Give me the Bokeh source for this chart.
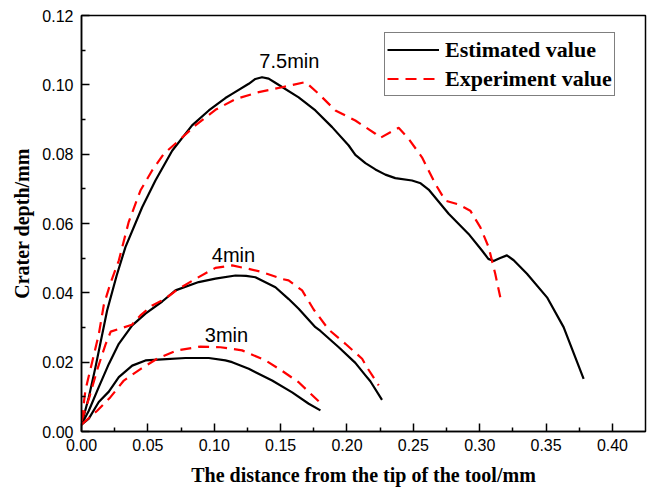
from bokeh.plotting import figure
from bokeh.models import (Range1d, FixedTicker, NumeralTickFormatter, Legend, LegendItem,
                          ColumnDataSource)
from bokeh.core.properties import value
from bokeh.embed import file_html
from bokeh.resources import INLINE

# ---- data ----
x_est_75 = [0, 0.0055, 0.0105, 0.0193, 0.0265, 0.0331, 0.0457, 0.0557, 0.0683, 0.0833, 0.0959,
            0.1084, 0.1135, 0.126, 0.131, 0.136, 0.141, 0.146, 0.1636, 0.1762, 0.1888, 0.2013,
            0.2063, 0.2139, 0.2214, 0.2289, 0.2364, 0.249, 0.2555, 0.2615, 0.2766, 0.2916,
            0.3017, 0.3065, 0.3105, 0.315, 0.3205, 0.3256, 0.3356, 0.3507, 0.3632, 0.3783]
y_est_75 = [0.002, 0.0099, 0.0185, 0.0349, 0.045, 0.0532, 0.0647, 0.0724, 0.081, 0.0883, 0.0926,
            0.0962, 0.0974, 0.1003, 0.1017, 0.1022, 0.1018, 0.1006, 0.0964, 0.0926, 0.0878, 0.0825,
            0.0798, 0.0774, 0.0756, 0.0741, 0.0731, 0.0724, 0.0716, 0.0698, 0.0628, 0.057,
            0.0522, 0.0498, 0.0492, 0.05, 0.0508, 0.0494, 0.0455, 0.0387, 0.0301, 0.0152]

x_exp_75 = [0, 0.003, 0.008, 0.013, 0.0168, 0.022, 0.0281, 0.0356, 0.0444, 0.0532, 0.062, 0.0733,
            0.0858, 0.1009, 0.116, 0.1335, 0.1511, 0.1687, 0.1787, 0.1913, 0.2063, 0.2214,
            0.2251, 0.2389, 0.2465, 0.2565, 0.2666, 0.2741, 0.2841, 0.2929, 0.3005, 0.3067,
            0.3117, 0.3155]
y_exp_75 = [0.003, 0.012, 0.02, 0.028, 0.0365, 0.043, 0.0493, 0.0605, 0.0695, 0.0753, 0.0801, 0.0839,
            0.0883, 0.0928, 0.0959, 0.0979, 0.0993, 0.1008, 0.0974, 0.0926, 0.0897, 0.0859,
            0.0847, 0.0876, 0.0844, 0.0791, 0.0714, 0.0666, 0.0655, 0.0637, 0.0589, 0.0532,
            0.0455, 0.0387]

x_est_4 = [0, 0.0055, 0.013, 0.0206, 0.0281, 0.0382, 0.0482, 0.0608, 0.0708, 0.0883, 0.1009,
           0.116, 0.124, 0.131, 0.1461, 0.1561, 0.1636, 0.1762, 0.18, 0.1938, 0.2063, 0.2139,
           0.2176, 0.2264]
y_est_4 = [0.002, 0.006, 0.0128, 0.0195, 0.0253, 0.0306, 0.034, 0.0375, 0.0407, 0.0431, 0.0441,
           0.045, 0.0449, 0.0445, 0.0416, 0.0382, 0.0354, 0.0301, 0.029, 0.0243, 0.0198, 0.0162,
           0.0145, 0.0091]

x_exp_4 = [0, 0.006, 0.012, 0.018, 0.022, 0.03, 0.038, 0.0444, 0.053, 0.063, 0.0733, 0.0858,
           0.1009, 0.1135, 0.126, 0.136, 0.1511, 0.156, 0.1662, 0.1749, 0.1862, 0.1988, 0.2114,
           0.2151, 0.2239]
y_exp_4 = [0.003, 0.01, 0.018, 0.025, 0.0288, 0.0298, 0.0308, 0.0335, 0.0363, 0.0383, 0.0412, 0.044,
           0.0472, 0.0479, 0.0469, 0.046, 0.044, 0.0436, 0.0407, 0.0352, 0.0294, 0.0253, 0.021,
           0.0185, 0.0133]

x_est_3 = [0, 0.0055, 0.013, 0.0206, 0.0281, 0.0382, 0.0482, 0.0608, 0.0783, 0.0959, 0.1084,
           0.1135, 0.126, 0.1436, 0.1587, 0.1712, 0.18]
y_est_3 = [0.002, 0.0037, 0.0085, 0.0115, 0.0157, 0.019, 0.0205, 0.0208, 0.0212, 0.0212, 0.0205,
           0.02, 0.0181, 0.0147, 0.0113, 0.008, 0.0061]

x_exp_3 = [0, 0.0118, 0.0218, 0.0319, 0.0444, 0.057, 0.072, 0.0896, 0.1047, 0.121, 0.1386,
           0.1511, 0.1636, 0.1787]
y_exp_3 = [0.002, 0.006, 0.0099, 0.0147, 0.018, 0.021, 0.0234, 0.0245, 0.0243, 0.0234, 0.0205,
           0.0175, 0.0142, 0.0087]

x_ticks = [0.00, 0.05, 0.10, 0.15, 0.20, 0.25, 0.30, 0.35, 0.40]
y_ticks = [0.00, 0.02, 0.04, 0.06, 0.08, 0.10, 0.12]

label_text = ["7.5min", "4min", "3min"]
label_x = [0.1566, 0.1145, 0.1092]
label_y = [0.1068, 0.0508, 0.0277]

series_names = ["Estimated value", "Experiment value"]

# ---- figure ----
p = figure(width=650, height=488, output_backend="svg", toolbar_location=None,
           x_range=Range1d(0, 0.4249), y_range=Range1d(0, 0.12),
           min_border_left=81, min_border_right=5, min_border_top=15, min_border_bottom=57)
p.background_fill_color = "white"
p.border_fill_color = "white"
p.grid.visible = False
p.outline_line_color = "black"
p.outline_line_width = 1.5
p.outline_line_alpha = 1.0

est_kw = dict(line_color="black", line_width=2.2, line_join="round")
exp_kw = dict(line_color="#ff0000", line_width=2.2, line_dash="11 7")

r_est = p.line(x_est_75, y_est_75, **est_kw)
p.line(x_est_4, y_est_4, **est_kw)
p.line(x_est_3, y_est_3, **est_kw)
r_exp = p.line(x_exp_75, y_exp_75, **exp_kw)
p.line(x_exp_4, y_exp_4, **exp_kw)
p.line(x_exp_3, y_exp_3, **exp_kw)

src = ColumnDataSource(dict(x=label_x, y=label_y, t=label_text))
p.text(x="x", y="y", text="t", source=src, text_font=value("Liberation Sans"),
       text_font_size=value("20px"), text_align="center", text_baseline="alphabetic",
       text_color="black")

# axes
for ax in (p.xaxis[0], p.yaxis[0]):
    ax.axis_line_width = 1.5
    ax.axis_line_color = "black"
    ax.major_tick_in = 8
    ax.major_tick_out = 0
    ax.minor_tick_in = 4
    ax.minor_tick_out = 0
    ax.major_tick_line_width = 1.5
    ax.minor_tick_line_width = 1.5
    ax.major_label_text_font = "Liberation Sans"
    ax.major_label_text_font_size = "16px"
    ax.major_label_text_color = "black"
    ax.axis_label_text_font = "Liberation Serif"
    ax.axis_label_text_font_style = "bold"
    ax.axis_label_text_font_size = "20px"
    ax.axis_label_text_color = "black"
    ax.formatter = NumeralTickFormatter(format="0.00")

p.xaxis.ticker = FixedTicker(ticks=x_ticks, minor_ticks=[t + 0.025 for t in x_ticks])
p.yaxis.ticker = FixedTicker(ticks=y_ticks, minor_ticks=[t + 0.01 for t in y_ticks])
p.xaxis.major_label_standoff = 7
p.yaxis.major_label_standoff = 8
p.xaxis.axis_label = "The distance from the tip of the tool/mm"
p.yaxis.axis_label = "Crater depth/mm"
p.xaxis.axis_label_standoff = 10
p.yaxis.axis_label_standoff = 6

legend = Legend(items=[LegendItem(label=series_names[0], renderers=[r_est]),
                       LegendItem(label=series_names[1], renderers=[r_exp])],
                location=(303, 335), orientation="vertical",
                padding=2, spacing=0, margin=0,
                glyph_width=52, glyph_height=29, label_height=29, label_standoff=6,
                label_text_font="Liberation Serif", label_text_font_style="bold",
                label_text_font_size="22px", label_text_color="black",
                border_line_color="black", border_line_width=1.2,
                background_fill_color="white", background_fill_alpha=1.0)
p.add_layout(legend)

open("out.html", "w").write(file_html(p, INLINE))
